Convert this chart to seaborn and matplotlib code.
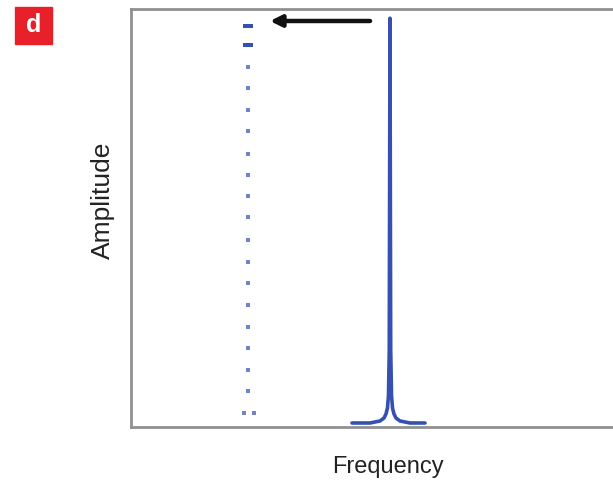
import matplotlib
matplotlib.use("Agg")
import matplotlib.pyplot as plt
from matplotlib.patches import Rectangle
import pandas as pd
import seaborn as sns

# peak shape (axes fraction coords)
peak_x = [0.4585, 0.4959, 0.5166, 0.5249, 0.5290, 0.5321, 0.5342, 0.5358,
          0.5373, 0.5388, 0.5405, 0.5425, 0.5456, 0.5498, 0.5581, 0.5788, 0.6100]
peak_y = [0.0096, 0.0096, 0.0144, 0.0215, 0.0311, 0.0455, 0.0766, 0.184,
          0.978, 0.184, 0.0766, 0.0455, 0.0311, 0.0215, 0.0144, 0.0096, 0.0096]

# dotted column (original position)
dot_x = 0.2427
dot_y = [0.9593, 0.9146, 0.8620, 0.8103, 0.7591, 0.7074, 0.6538, 0.6036,
         0.5526, 0.5017, 0.4474, 0.3955, 0.3438, 0.2919, 0.2400, 0.1883,
         0.1364, 0.0861]
bottom_dots_x = [0.2344, 0.2552]
bottom_dots_y = [0.0335, 0.0335]

arrow_start = (0.4959, 0.9713)
arrow_end = (0.2884, 0.9713)

blue = "#3550b0"

sns.set_style("white")
plt.rcParams["font.family"] = ["Liberation Sans", "DejaVu Sans"]

fig = plt.figure(figsize=(6.13, 4.9), dpi=100)
ax = fig.add_axes([131 / 613, 63 / 490, 482 / 613, 418 / 490])

peak = pd.DataFrame({"x": peak_x, "y": peak_y})
sns.lineplot(data=peak, x="x", y="y", sort=False, estimator=None,
             color=blue, lw=2.6, ax=ax)

dots = pd.DataFrame({"x": [dot_x] * len(dot_y), "y": dot_y})
big = dots.iloc[:2]
small = dots.iloc[2:]
rect_marker = [(-1, -0.5), (1, -0.5), (1, 0.5), (-1, 0.5)]
sns.scatterplot(data=big, x="x", y="y", marker=rect_marker, s=50,
                color=blue, linewidth=0, ax=ax)
sns.scatterplot(data=small, x="x", y="y", marker="s", s=9,
                color=blue, alpha=0.7, linewidth=0, ax=ax)
sns.scatterplot(x=bottom_dots_x, y=bottom_dots_y, marker="s", s=9,
                color=blue, alpha=0.7, linewidth=0, ax=ax)

ax.annotate("", xy=arrow_end, xytext=arrow_start,
            arrowprops=dict(arrowstyle="-|>", color="#111111", lw=3.2,
                            mutation_scale=17, shrinkA=0, shrinkB=0))

ax.set_xlim(0, 1)
ax.set_ylim(0, 1)
ax.set_xticks([])
ax.set_yticks([])
for side in ["top", "left", "bottom"]:
    ax.spines[side].set_color("#909090")
    ax.spines[side].set_linewidth(2)
ax.spines["right"].set_visible(False)

ax.set_xlabel("Frequency", fontsize=17, color="#222222", va="center")
ax.xaxis.set_label_coords(0.533, -0.096)
ax.set_ylabel("Amplitude", fontsize=19, color="#222222", va="center")
ax.yaxis.set_label_coords(-0.058, 0.543)

fig.patches.append(Rectangle((15 / 613, 446 / 490), 37 / 613, 37 / 490,
                             transform=fig.transFigure, color="#e8202a"))
fig.text(33.5 / 613, 464.5 / 490, "d", color="white", fontsize=18,
         fontweight="bold", ha="center", va="center")

fig.savefig("out.png", dpi=100)
